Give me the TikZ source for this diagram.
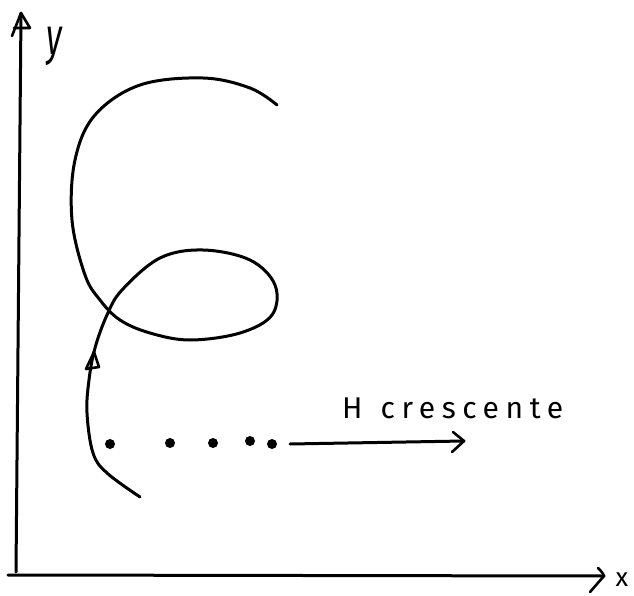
\documentclass[tikz,border=0pt]{standalone}
\usepackage{fontspec}
\setmainfont{Fira Sans}
\usetikzlibrary{arrows.meta}
\begin{document}
\begin{tikzpicture}[x=1pt,y=-1pt,
  ink/.style={line width=3pt,line cap=round,line join=round,black},
  head/.style={line width=2.6pt,line cap=round,line join=round,black},
  dotmark/.style={circle,fill=black,inner sep=0pt,minimum size=10pt}]
\useasboundingbox (0,0) rectangle (634,596);
% axes
\coordinate (O1) at (16,572);
\coordinate (Ytop) at (21,13);
\coordinate (X0) at (8,575);
\coordinate (Xend) at (604,576);
\draw[ink] (O1) -- (Ytop);
\draw[head] (12,36) -- (Ytop) -- (30,28) -- (14,28);
\draw[ink] (X0) -- (Xend);
\draw[head] (598,568) .. controls (602,572) .. (Xend) .. controls (597,584) .. (590,592);
\node (ylab) at (54,46) {\scalebox{0.62}[1]{\fontsize{52}{52}\selectfont\itshape y}};
\node[inner sep=0pt] (xlab) at (622,580) {\fontsize{26}{26}\selectfont x};
% curve
\draw[ink]
  plot[smooth,tension=0.6] coordinates {
  (140,497) (107,473) (93,453) (87,413) (89,380) (95,348) (107,315) (122,290)
  (160,258) (203,250) (250,260) (275,285) (272,315) (240,333) (190,340)
  (150,333) (120,320) (100,300) (85,275) (72,220) (75,160) (95,115)
  (140,85) (203,78) (250,88) (277,105)};
\coordinate (ca) at (94,352);
\draw[head] (ca) -- (86,369) -- (99,367) -- cycle;
% dots
\node[dotmark] (d1) at (110,444) {};
\node[dotmark] (d2) at (170,443) {};
\node[dotmark] (d3) at (213,443) {};
\node[dotmark] (d4) at (250,441) {};
\node[dotmark] (d5) at (272,444) {};
\coordinate (Aend) at (464,441);
\draw[ink] ([xshift=18pt]d5.center) -- (Aend);
\draw[head] (453,432) -- (Aend) -- (452,452);
\node[anchor=base west,inner sep=0pt] (lab) at (342,418)
  {\fontsize{30}{30}\selectfont\addfontfeature{LetterSpace=22}H\hspace{18pt}crescente};
\end{tikzpicture}
\end{document}
